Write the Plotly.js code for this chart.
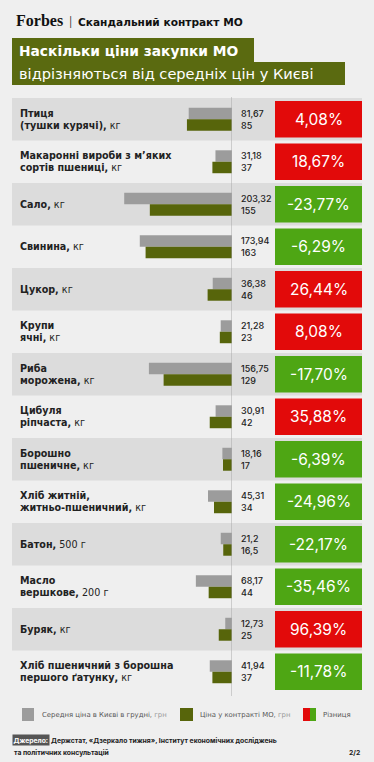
<!DOCTYPE html>
<html><head><meta charset="utf-8">
<script src="https://cdn.plot.ly/plotly-3.0.1.min.js"></script>
<style>html,body{margin:0;padding:0;background:#efefef;}#chart{width:374px;height:762px;}</style>
</head><body><div id="chart"></div>
<script>
const labels = [
  "<b>Птиця<br>(тушки курячі),</b> кг",
  "<b>Макаронні вироби з м’яких<br>сортів пшениці,</b> кг",
  "<b>Сало,</b> кг",
  "<b>Свинина,</b> кг",
  "<b>Цукор,</b> кг",
  "<b>Крупи<br>ячні,</b> кг",
  "<b>Риба<br>морожена,</b> кг",
  "<b>Цибуля<br>ріпчаста,</b> кг",
  "<b>Борошно<br>пшеничне,</b> кг",
  "<b>Хліб житній,<br>житньо-пшеничний,</b> кг",
  "<b>Батон,</b> 500 г",
  "<b>Масло<br>вершкове,</b> 200 г",
  "<b>Буряк,</b> кг",
  "<b>Хліб пшеничний з борошна<br>першого ґатунку,</b> кг"
];
const kyivPrice = [81.67, 31.18, 203.32, 173.94, 36.38, 21.28, 156.75, 30.91, 18.16, 45.31, 21.2, 68.17, 12.73, 41.94];
const contractPrice = [85, 37, 155, 163, 46, 23, 129, 42, 17, 34, 16.5, 44, 25, 37];
const diffPct = [4.08, 18.67, -23.77, -6.29, 26.44, 8.08, -17.70, 35.88, -6.39, -24.96, -22.17, -35.46, 96.39, -11.78];

const W = 374, H = 762;
const px = x => x / W;
const py = y => 1 - y / H;
const FONT = "Inter, Roboto, 'Noto Sans', sans-serif";
const WIDE = "'DejaVu Sans', Roboto, sans-serif";
const GREY = '#9c9c9c', OLIVE = '#57650b', RED = '#e20a0a', GREEN = '#4ea614';
const idx = labels.map((_, i) => i);
const fmt = v => String(v).replace('.', ',');

const traces = [
  {type: 'bar', orientation: 'h', y: idx, x: kyivPrice, width: 0.27, offset: -0.27,
   marker: {color: GREY}, hoverinfo: 'skip', showlegend: false},
  {type: 'bar', orientation: 'h', y: idx, x: contractPrice, width: 0.27, offset: 0,
   marker: {color: OLIVE}, hoverinfo: 'skip', showlegend: false}
];

const shapes = [];
const annotations = [];

// header title boxes
shapes.push({type: 'rect', xref: 'paper', yref: 'paper', x0: px(12), x1: px(254), y0: py(62), y1: py(38), fillcolor: '#5a6a10', line: {width: 0}});
shapes.push({type: 'rect', xref: 'paper', yref: 'paper', x0: px(12), x1: px(345), y0: py(85), y1: py(62), fillcolor: '#5a6a10', line: {width: 0}});

idx.forEach(i => {
  if (i % 2 === 0) {
    shapes.push({type: 'rect', xref: 'paper', yref: 'y', x0: px(12), x1: px(362), y0: i - 0.5, y1: i + 0.5,
      fillcolor: '#dcdcdc', line: {width: 0}, layer: 'below'});
  }
  shapes.push({type: 'rect', xref: 'paper', yref: 'y', x0: px(275), x1: px(362), y0: i - 0.43, y1: i + 0.43,
    fillcolor: diffPct[i] >= 0 ? RED : GREEN, line: {width: 0}, layer: 'below'});
  annotations.push({xref: 'paper', yref: 'y', x: px(18), y: i, xanchor: 'left', yanchor: 'middle', align: 'left',
    text: labels[i], showarrow: false, font: {family: WIDE, size: 9.6, color: '#222'}});
  annotations.push({xref: 'paper', yref: 'y', x: px(239), y: i, xanchor: 'left', yanchor: 'middle', align: 'left',
    text: fmt(kyivPrice[i]) + '<br>' + fmt(contractPrice[i]), showarrow: false,
    font: {family: FONT, size: 9, color: '#222', weight: 500}});
  annotations.push({xref: 'paper', yref: 'y', x: px(318.5), y: i, xanchor: 'center', yanchor: 'middle',
    text: diffPct[i].toFixed(2).replace('.', ',') + '%', showarrow: false,
    font: {family: FONT, size: 15.5, color: '#fff'}});
});

// zero line
shapes.push({type: 'line', xref: 'x', yref: 'paper', x0: 0, x1: 0, y0: py(696), y1: py(97), line: {color: '#a8a8a8', width: 1}, layer: 'above'});

// header texts
annotations.push({xref: 'paper', yref: 'paper', x: px(14), y: py(21), xanchor: 'left', yanchor: 'middle', showarrow: false,
  text: '<b>Forbes</b>', font: {family: "'Liberation Serif', 'DejaVu Serif', serif", size: 16, color: '#111'}});
annotations.push({xref: 'paper', yref: 'paper', x: px(67), y: py(22), xanchor: 'left', yanchor: 'middle', showarrow: false,
  text: '|', font: {family: FONT, size: 10, color: '#333'}});
annotations.push({xref: 'paper', yref: 'paper', x: px(76), y: py(22), xanchor: 'left', yanchor: 'middle', showarrow: false,
  text: '<b>Скандальний контракт МО</b>', font: {family: WIDE, size: 10.6, color: '#111'}});
annotations.push({xref: 'paper', yref: 'paper', x: px(17), y: py(50.5), xanchor: 'left', yanchor: 'middle', showarrow: false,
  text: '<b>Наскільки ціни закупки МО</b>', font: {family: WIDE, size: 13.8, color: '#fff'}});
annotations.push({xref: 'paper', yref: 'paper', x: px(17), y: py(73.5), xanchor: 'left', yanchor: 'middle', showarrow: false,
  text: 'відрізняються від середніх цін у Києві', font: {family: WIDE, size: 14.6, color: '#fff'}});

// legend
shapes.push({type: 'rect', xref: 'paper', yref: 'paper', x0: px(22), x1: px(34), y0: py(721), y1: py(708), fillcolor: GREY, line: {width: 0}});
shapes.push({type: 'rect', xref: 'paper', yref: 'paper', x0: px(180), x1: px(193), y0: py(721), y1: py(708), fillcolor: OLIVE, line: {width: 0}});
shapes.push({type: 'rect', xref: 'paper', yref: 'paper', x0: px(303), x1: px(310), y0: py(721), y1: py(708), fillcolor: RED, line: {width: 0}});
shapes.push({type: 'rect', xref: 'paper', yref: 'paper', x0: px(310), x1: px(316), y0: py(721), y1: py(708), fillcolor: GREEN, line: {width: 0}});
annotations.push({xref: 'paper', yref: 'paper', x: px(40), y: py(714.5), xanchor: 'left', yanchor: 'middle', showarrow: false,
  text: 'Середня ціна в Києві в грудні, <span style="color:#999">грн</span>', font: {family: WIDE, size: 6.9, color: '#555'}});
annotations.push({xref: 'paper', yref: 'paper', x: px(198), y: py(714.5), xanchor: 'left', yanchor: 'middle', showarrow: false,
  text: 'Ціна у контракті МО, <span style="color:#999">грн</span>', font: {family: WIDE, size: 6.9, color: '#555'}});
annotations.push({xref: 'paper', yref: 'paper', x: px(321), y: py(714.5), xanchor: 'left', yanchor: 'middle', showarrow: false,
  text: 'Різниця', font: {family: WIDE, size: 6.9, color: '#555'}});

// source
annotations.push({xref: 'paper', yref: 'paper', x: px(12), y: py(740), xanchor: 'left', yanchor: 'middle', showarrow: false,
  text: '<b>Джерело:</b>', bgcolor: '#555', borderpad: 0.5, font: {family: FONT, size: 6.8, color: '#fff'}});
annotations.push({xref: 'paper', yref: 'paper', x: px(49), y: py(740), xanchor: 'left', yanchor: 'middle', showarrow: false,
  text: '<b>Держстат, «Дзеркало тижня», Інститут економічних досліджень</b>', font: {family: FONT, size: 6.8, color: '#222'}});
annotations.push({xref: 'paper', yref: 'paper', x: px(12), y: py(752), xanchor: 'left', yanchor: 'middle', showarrow: false,
  text: '<b>та політичних консультацій</b>', font: {family: FONT, size: 6.8, color: '#222'}});
annotations.push({xref: 'paper', yref: 'paper', x: px(362), y: py(752), xanchor: 'right', yanchor: 'middle', showarrow: false,
  text: '<b>2/2</b>', font: {family: FONT, size: 6.8, color: '#222'}});

const layout = {
  width: W, height: H,
  margin: {l: 0, r: 0, t: 0, b: 0},
  paper_bgcolor: '#efefef', plot_bgcolor: 'rgba(0,0,0,0)',
  barmode: 'overlay',
  showlegend: false,
  xaxis: {domain: [px(12), px(232)], range: [415, 0], showgrid: false, zeroline: false, showticklabels: false, showline: false, fixedrange: true},
  yaxis: {domain: [py(693), py(98)], range: [13.5, -0.5], showgrid: false, zeroline: false, showticklabels: false, showline: false, fixedrange: true},
  shapes: shapes,
  annotations: annotations
};

Plotly.newPlot('chart', traces, layout, {displayModeBar: false, staticPlot: true});
</script>
</body></html>
